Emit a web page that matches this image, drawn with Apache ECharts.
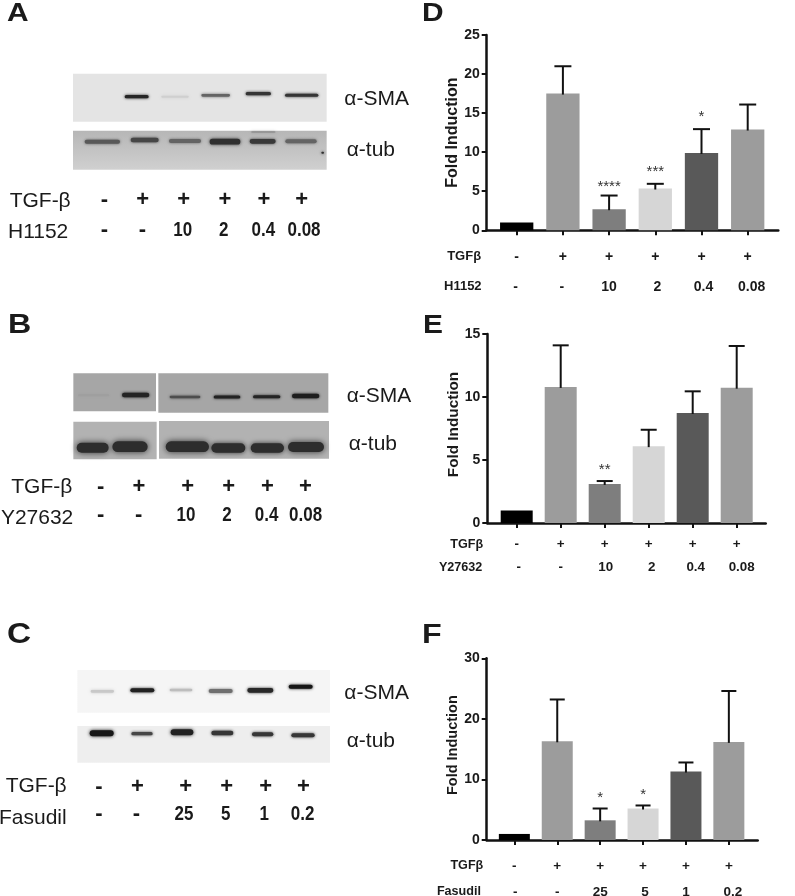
<!DOCTYPE html>
<html><head><meta charset="utf-8">
<style>html,body{margin:0;padding:0;background:#fff}#c{width:795px;height:896px}</style>
<script src="https://cdn.jsdelivr.net/npm/echarts@6/dist/echarts.min.js"></script>
</head><body><div id="c"></div>
<script>
// ---------- bar chart data ----------
const tgfRow = ['-', '+', '+', '+', '+', '+'];
const h1152Row = ['-', '-', '10', '2', '0.4', '0.08'];
const y27632Row = ['-', '-', '10', '2', '0.4', '0.08'];
const fasudilRow = ['-', '-', '25', '5', '1', '0.2'];
const meansD = [1, 17.5, 2.7, 5.35, 9.9, 12.9];
const upperD = [1, 21, 4.45, 5.95, 12.95, 16.1];
const meansE = [1, 10.8, 3.1, 6.1, 8.73, 10.74];
const upperE = [1, 14.1, 3.33, 7.4, 10.45, 14.05];
const meansF = [1, 16.3, 3.25, 5.2, 11.3, 16.2];
const upperF = [1, 23.2, 5.2, 5.7, 12.8, 24.6];
const starsD = ['', '', '****', '***', '*', ''];
const starsE = ['', '', '**', '', '', ''];
const starsF = ['', '', '*', '*', '', ''];
const starLevelD = [0, 0, 5.5, 7.46, 14.56, 0];
const starLevelE = [0, 0, 4.23, 0, 0, 0];
const starLevelF = [0, 0, 6.9, 7.5, 0, 0];
// ---------- blot band densities (0 none .. 1 black) ----------
const densityASma = [0, .92, .1, .62, .85, .85];
const densityATub = [.62, .72, .55, .85, .8, .55];
const densityBSma = [.05, .9, .62, .92, .9, .95];
const densityBTub = [.85, .85, .85, .85, .85, .85];
const densityCSma = [.2, .95, .25, .6, .92, 1];
const densityCTub = [1, .78, .95, .85, .85, .85];

const barColors = ['#000000', '#9c9c9c', '#7e7e7e', '#d6d6d6', '#595959', '#9c9c9c'];
const FONT = '"Liberation Sans", Arial, sans-serif';
const INK = '#1a1a1a';

const grids = [], xAxes = [], yAxes = [], series = [], graphics = [];

function addGrid(g) { grids.push(Object.assign({ outerBoundsMode: 'none' }, g)); return grids.length - 1; }
function addX(a) { xAxes.push(a); return xAxes.length - 1; }
function addY(a) { yAxes.push(a); return yAxes.length - 1; }

function barPanel(c) {
  const h = c.zero - c.top;
  const main = addGrid({ left: c.left, top: c.top, width: c.band * 6, height: h });
  const xi = addX({
    gridIndex: main, type: 'category', data: c.inhibitor, position: 'bottom',
    axisLine: { show: false }, axisLabel: { show: false }, splitLine: { show: false },
    axisTick: { show: true, alignWithLabel: true, length: 5, lineStyle: { color: '#111', width: 2 } }
  });
  const rowAxis = (data, name, rowY, size, nameSize, gap, nudge) => addX({
    gridIndex: main, type: 'category', position: 'bottom', offset: rowY - c.zero - size / 2,
    data: data.map((v, i) => ({ value: v, textStyle: { padding: [0, 0, 0, (nudge[i] || 0) * 2] } })),
    axisLine: { show: false }, axisTick: { show: false }, splitLine: { show: false },
    axisLabel: { show: true, interval: 0, margin: 0, fontFamily: FONT, fontWeight: 'bold', fontSize: size, color: INK },
    name, nameLocation: 'start', nameGap: gap,
    nameTextStyle: { fontFamily: FONT, fontWeight: 'bold', fontSize: nameSize, color: INK, verticalAlign: 'top', align: 'right' }
  });
  rowAxis(tgfRow, 'TGFβ', c.row1, c.valSize, c.nameSize, c.gap1, [0, 0, 0, 0, 0, 0]);
  rowAxis(c.inhibitor, c.inhibitorName, c.row2, c.valSize, c.nameSize, c.gap2, c.nudge);
  const yi = addY({
    gridIndex: main, type: 'value', min: 0, max: c.max, interval: c.step, offset: c.left - c.axisX,
    axisLine: { show: true, lineStyle: { color: '#111', width: 2.5 } },
    axisTick: { show: true, length: 5, lineStyle: { color: '#111', width: 2 } },
    axisLabel: { margin: 7, fontFamily: FONT, fontWeight: 'bold', fontSize: 14, color: INK },
    splitLine: { show: false },
    name: 'Fold Induction', nameLocation: 'middle', nameRotate: 90, nameGap: c.yGap,
    nameTextStyle: { fontFamily: FONT, fontWeight: 'bold', fontSize: c.ySize, color: INK, padding: [0, 0, 0, c.yShift] }
  });
  // full-length baseline runs past the first and last band
  const baseGrid = addGrid({ left: c.axisX, top: c.top, width: c.axisEnd - c.axisX, height: h });
  addX({
    gridIndex: baseGrid, type: 'value', min: 0, max: 1, position: 'bottom',
    axisLine: { show: true, onZero: false, lineStyle: { color: '#111', width: 2.5 } },
    axisTick: { show: false }, axisLabel: { show: false }, splitLine: { show: false }
  });
  addY({ gridIndex: baseGrid, type: 'value', min: 0, max: 1, show: false });

  series.push({
    type: 'bar', xAxisIndex: xi, yAxisIndex: yi, barWidth: c.barW, silent: true, animation: false, z: 2,
    data: c.means.map((v, i) => ({ value: v, itemStyle: { color: barColors[i] } }))
  });
  series.push({
    type: 'custom', xAxisIndex: xi, yAxisIndex: yi, silent: true, animation: false, z: 3, clip: false,
    data: c.means.map((m, i) => [i, m, c.upper[i]]).filter(d => d[2] > d[1]),
    renderItem(p, api) {
      const a = api.coord([api.value(0), api.value(1)]);
      const b = api.coord([api.value(0), api.value(2)]);
      const s = { stroke: '#111', lineWidth: 2, fill: null };
      return { type: 'group', children: [
        { type: 'line', shape: { x1: a[0], y1: a[1] + 1, x2: b[0], y2: b[1] }, style: s },
        { type: 'line', shape: { x1: b[0] - c.cap / 2, y1: b[1], x2: b[0] + c.cap / 2, y2: b[1] }, style: s }
      ] };
    }
  });
  series.push({
    type: 'custom', xAxisIndex: xi, yAxisIndex: yi, silent: true, animation: false, z: 4, clip: false,
    data: c.stars.map((t, i) => [i, c.starLevel[i], t]).filter(d => d[2]),
    renderItem(p, api) {
      const a = api.coord([api.value(0), api.value(1)]);
      return { type: 'text', style: { x: a[0], y: a[1], text: c.stars[api.value(0)], fill: '#333',
        font: '15px ' + FONT, textAlign: 'center', textVerticalAlign: 'middle' } };
    }
  });
}

barPanel({ top: 35, zero: 230.3, left: 493.6, band: 46.2, axisX: 486.7, axisEnd: 778.3, max: 25, step: 5, barW: 33.3, cap: 17,
  means: meansD, upper: upperD, stars: starsD, starLevel: starLevelD, inhibitor: h1152Row, inhibitorName: 'H1152',
  row1: 256.7, row2: 286.7, valSize: 14, nameSize: 13, gap1: 12.5, gap2: 12, nudge: [-1, -1, 0, 2, 2, 4], yGap: 26, ySize: 16, yShift: 0 });
barPanel({ top: 334, zero: 523, left: 494.7, band: 44, axisX: 487.3, axisEnd: 765.7, max: 15, step: 5, barW: 32, cap: 16,
  means: meansE, upper: upperE, stars: starsE, starLevel: starLevelE, inhibitor: y27632Row, inhibitorName: 'Y27632',
  row1: 545, row2: 567.7, valSize: 13.4, nameSize: 12.6, gap1: 11.5, gap2: 12.4, nudge: [2, 0, 1, 3, 3, 5], yGap: 26, ySize: 15.3, yShift: 8 });
barPanel({ top: 658.3, zero: 840, left: 492.9, band: 42.9, axisX: 486.7, axisEnd: 757.7, max: 30, step: 10, barW: 31, cap: 15,
  means: meansF, upper: upperF, stars: starsF, starLevel: starLevelF, inhibitor: fasudilRow, inhibitorName: 'Fasudil',
  row1: 865.7, row2: 891.7, valSize: 13.5, nameSize: 12.6, gap1: 9.6, gap2: 11.9, nudge: [1, 0, 0, 2, 0, 4], yGap: 26, ySize: 14.5, yShift: 8 });

// ---------- blots: each strip is a grid whose axes run in scan coordinates ----------
function mix(bg, d) { const g = Math.round(bg + (22 - bg) * d); return 'rgb(' + g + ',' + g + ',' + g + ')'; }

function strip(s) {
  const grid = addGrid({
    left: s.x0 / 3, top: s.y0 / 3 + s.page, width: (s.x1 - s.x0) / 3, height: (s.y1 - s.y0) / 3,
    show: true, borderWidth: 0,
    backgroundColor: { type: 'linear', x: 0, y: 0, x2: 0, y2: 1, colorStops: [{ offset: 0, color: mix(s.bgTop, 0) }, { offset: 1, color: mix(s.bgBottom, 0) }] }
  });
  const xi = addX({ gridIndex: grid, type: 'value', min: s.x0, max: s.x1, show: false });
  const yi = addY({ gridIndex: grid, type: 'value', min: s.y0, max: s.y1, inverse: true, show: false });
  const bg = (s.bgTop + s.bgBottom) / 2;
  const bands = s.lanes.map(i => [s.cx[i], s.cy[i], s.w[i], s.t[i], s.density[i]]).concat(s.extra || []);
  series.push({
    type: 'custom', xAxisIndex: xi, yAxisIndex: yi, silent: true, animation: false,
    data: bands.filter(d => d[4] > 0),
    renderItem(p, api) {
      const c = api.coord([api.value(0), api.value(1)]);
      const sz = api.size([api.value(2), api.value(3)]);
      const col = mix(bg, api.value(4));
      return { type: 'rect', shape: { x: c[0] - sz[0] / 2, y: c[1] - sz[1] / 2, width: sz[0], height: sz[1], r: sz[1] / 2 },
        style: { fill: col, shadowColor: col, shadowBlur: Math.max(3, sz[1] * .6) } };
    }
  });
}
const all = [0, 1, 2, 3, 4, 5];
strip({ page: 0, x0: 219, x1: 980, y0: 221, y1: 365, bgTop: 228, bgBottom: 228, lanes: all, density: densityASma,
  cx: [300, 410, 525, 647, 775, 905], cy: [290, 290, 290, 286, 281, 286], w: [70, 72, 82, 86, 76, 100], t: [8, 10, 6, 8, 10, 9] });
strip({ page: 0, x0: 219, x1: 980, y0: 392, y1: 509, bgTop: 182, bgBottom: 208, lanes: all, density: densityATub,
  cx: [307, 434, 555, 675, 788, 903], cy: [425, 420, 423, 425, 424, 424], w: [106, 84, 96, 92, 78, 94], t: [12, 14, 12, 17, 14, 12],
  extra: [[790, 396, 72, 2, .6], [968, 458, 8, 6, .85]] });
strip({ page: 300, x0: 220, x1: 468, y0: 220, y1: 334, bgTop: 166, bgBottom: 166, lanes: [0, 1], density: densityBSma,
  cx: [281, 407], cy: [286, 285], w: [94, 82], t: [6, 14] });
strip({ page: 300, x0: 475, x1: 985, y0: 220, y1: 338, bgTop: 166, bgBottom: 166, lanes: [2, 3, 4, 5], density: densityBSma,
  cx: [0, 0, 555, 681, 800, 917], cy: [0, 0, 291, 291, 290, 288], w: [0, 0, 92, 80, 82, 82], t: [0, 0, 7, 9, 9, 14] });
strip({ page: 300, x0: 220, x1: 470, y0: 365, y1: 478, bgTop: 178, bgBottom: 178, lanes: [0, 1], density: densityBTub,
  cx: [278, 390], cy: [443, 440], w: [96, 106], t: [30, 32] });
strip({ page: 300, x0: 477, x1: 987, y0: 363, y1: 476, bgTop: 178, bgBottom: 178, lanes: [2, 3, 4, 5], density: densityBTub,
  cx: [0, 0, 562, 685, 802, 918], cy: [0, 0, 440, 444, 444, 441], w: [0, 0, 130, 102, 100, 108], t: [0, 0, 32, 28, 28, 30] });
strip({ page: 610, x0: 232, x1: 990, y0: 180, y1: 308, bgTop: 245, bgBottom: 245, lanes: all, density: densityCSma,
  cx: [307, 427, 543, 662, 781, 902], cy: [244, 241, 240, 243, 241, 230], w: [70, 72, 68, 72, 78, 72], t: [8, 12, 8, 12, 14, 12] });
strip({ page: 610, x0: 232, x1: 990, y0: 348, y1: 458, bgTop: 238, bgBottom: 238, lanes: all, density: densityCTub,
  cx: [305, 426, 546, 667, 788, 909], cy: [370, 371, 367, 369, 373, 376], w: [72, 64, 68, 66, 64, 70], t: [18, 10, 18, 14, 12, 12] });

// ---------- blot annotation text ----------
function text(t, x, y, o) {
  graphics.push(Object.assign({ type: 'text', x, y, silent: true, z: 10,
    style: { text: t, x: 0, y: 0, fill: INK, font: (o.font || '21px ') + FONT, textAlign: o.align || 'left', textVerticalAlign: 'middle' } },
    o.scaleX ? { scaleX: o.scaleX } : {}));
}
function laneRow(row, xs, y) {
  row.forEach((t, i) => {
    const symbol = t === '+' || t === '-';
    text(t, xs[i] / 3, y, { font: symbol ? 'bold 22px ' : 'bold 20px ', align: 'center', scaleX: symbol ? 1 : .85 });
  });
}
text('α-SMA', 344.3, 99.3, {}); text('α-tub', 346.7, 150, {});
text('α-SMA', 346.7, 396, {}); text('α-tub', 348.7, 444, {});
text('α-SMA', 344.3, 693.3, {}); text('α-tub', 346.7, 741.7, {});
text('TGF-β', 70.7, 201.5, { align: 'right' }); text('H1152', 68.3, 232.5, { align: 'right' });
text('TGF-β', 72.3, 487, { align: 'right' }); text('Y27632', 73.3, 518.5, { align: 'right' });
text('TGF-β', 66.7, 786, { align: 'right' }); text('Fasudil', 66.7, 818.5, { align: 'right' });
laneRow(tgfRow, [313, 428, 551, 675, 792, 905], 200.3);
laneRow(h1152Row, [313, 427, 548, 671, 790, 912], 230);
laneRow(tgfRow, [302, 417, 563, 686, 802, 916], 486.7);
laneRow(y27632Row, [302, 416, 558, 681, 800, 917], 515);
laneRow(tgfRow, [297, 412, 557, 680, 797, 910], 786.7);
laneRow(fasudilRow, [297, 409, 552, 677, 793, 908], 814.3);
[['A', 7, 14, 26], ['B', 8, 325, 28], ['C', 7, 635, 29], ['D', 422, 14, 26], ['E', 423, 326, 26], ['F', 422, 635, 28]].forEach(l => {
  text(l[0], l[1], l[2], { font: 'bold ' + l[3] + 'px ', scaleX: 1.15 });
});

const chart = echarts.init(document.getElementById('c'), null, { renderer: 'canvas' });
chart.setOption({ animation: false, backgroundColor: '#ffffff', grid: grids, xAxis: xAxes, yAxis: yAxes, series, graphic: { elements: graphics } });
</script></body></html>
